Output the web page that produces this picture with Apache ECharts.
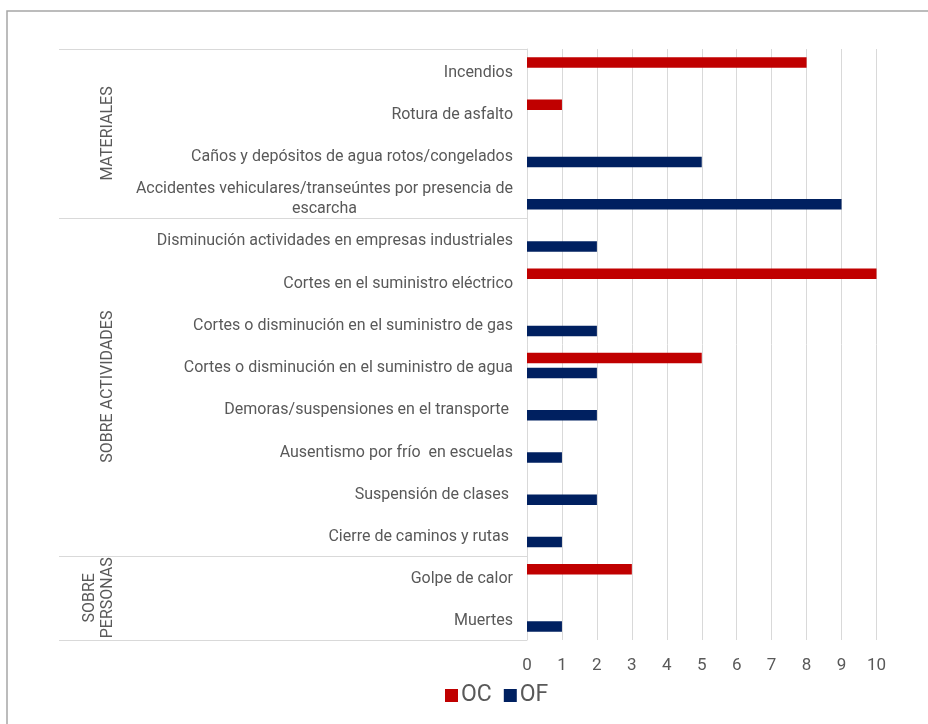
<!DOCTYPE html>
<html><head><meta charset="utf-8">
<script src="https://cdn.jsdelivr.net/npm/echarts@6/dist/echarts.min.js"></script>
<style>html,body{margin:0;padding:0;background:#fff}#c{width:928px;height:724px}</style>
</head><body><div id="c"></div>
<script>
const categories = [
  'Incendios',
  'Rotura de asfalto',
  'Caños y depósitos de agua rotos/congelados',
  'Accidentes vehiculares/transeúntes por presencia de\nescarcha',
  'Disminución actividades en empresas industriales',
  'Cortes en el suministro eléctrico',
  'Cortes o disminución en el suministro de gas',
  'Cortes o disminución en el suministro de agua',
  'Demoras/suspensiones en el transporte ',
  'Ausentismo por frío  en escuelas',
  'Suspensión de clases ',
  'Cierre de caminos y rutas ',
  'Golpe de calor',
  'Muertes'
];
const ocValues = [8, 1, null, null, null, 10, null, 5, null, null, null, null, 3, null];
const ofValues = [null, null, 5, 9, 2, null, 2, 2, 2, 1, 2, 1, null, 1];
const groupNames = ['MATERIALES', 'SOBRE ACTIVIDADES', 'SOBRE\nPERSONAS'];
const groupSizes = [4, 8, 2];
const xTicks = [0, 10, 1]; // min, max, interval
const seriesNames = ['OC', 'OF'];

const FONT = 'Roboto, "Noto Sans", sans-serif';
const GRAY = '#595959';
const LINE = '#d9d9d9';
const gridTop = 49, gridBottomPx = 640, gridLeft = 527, gridRightPx = 876.5;

const chart = echarts.init(document.getElementById('c'), null, {renderer: 'canvas'});

const band = (gridBottomPx - gridTop) / categories.length;
const graphics = [{
  type: 'rect', shape: {x: 7, y: 11, width: 1000, height: 1000},
  style: {fill: 'none', stroke: '#a6a6a6', lineWidth: 1.5}, silent: true
}];
let idx = 0;
const bounds = [0];
groupSizes.forEach(s => { idx += s; bounds.push(idx); });
bounds.forEach(b => {
  const y = Math.round(gridTop + b * band) + 0.5;
  graphics.push({type: 'line', shape: {x1: 59, y1: y, x2: gridLeft, y2: y},
    style: {stroke: LINE, lineWidth: 1}, silent: true});
});
groupNames.forEach((g, i) => {
  const cy = gridTop + (bounds[i] + bounds[i + 1]) / 2 * band;
  graphics.push({type: 'text', x: 117, y: cy, rotation: Math.PI / 2,
    style: {text: g, font: '16px ' + FONT, fill: GRAY, align: 'center', verticalAlign: 'bottom', lineHeight: 18},
    silent: true});
});

chart.setOption({
  animation: false,
  textStyle: {fontFamily: FONT},
  grid: {left: gridLeft, right: 928 - gridRightPx, top: gridTop, bottom: 724 - gridBottomPx, outerBoundsMode: 'none'},
  legend: {
    data: seriesNames, bottom: 12, left: 440, itemWidth: 13, itemHeight: 13, itemGap: 12,
    icon: 'rect', textStyle: {fontSize: 23, color: GRAY, fontFamily: FONT, padding: [0, 0, 0, -2]}
  },
  xAxis: {
    type: 'value', min: xTicks[0], max: xTicks[1], interval: xTicks[2],
    axisLine: {show: false}, axisTick: {show: false},
    splitLine: {lineStyle: {color: LINE, width: 1}},
    axisLabel: {color: GRAY, fontSize: 17, margin: 17, fontFamily: FONT}
  },
  yAxis: {
    type: 'category', data: categories, inverse: true,
    axisLine: {lineStyle: {color: LINE}}, axisTick: {show: false},
    axisLabel: {
      color: GRAY, fontSize: 16, margin: 14, fontFamily: FONT, lineHeight: 20, padding: [5, 0, 0, 0],
      formatter: v => {
        const parts = v.split('\n');
        if (parts.length === 1) return v;
        return '{a|' + parts[0] + '}\n{c|' + parts[1] + '}';
      },
      rich: {
        a: {fontSize: 16, color: GRAY, fontFamily: FONT, lineHeight: 20},
        c: {fontSize: 16, color: GRAY, fontFamily: FONT, lineHeight: 20, align: 'center'}
      }
    }
  },
  series: [
    {name: seriesNames[0], type: 'bar', data: ocValues, barWidth: 10.5, barGap: '43%',
     itemStyle: {color: '#C00000'}},
    {name: seriesNames[1], type: 'bar', data: ofValues, barWidth: 10.5, barGap: '43%',
     itemStyle: {color: '#002060'}}
  ],
  graphic: graphics
});
</script></body></html>
